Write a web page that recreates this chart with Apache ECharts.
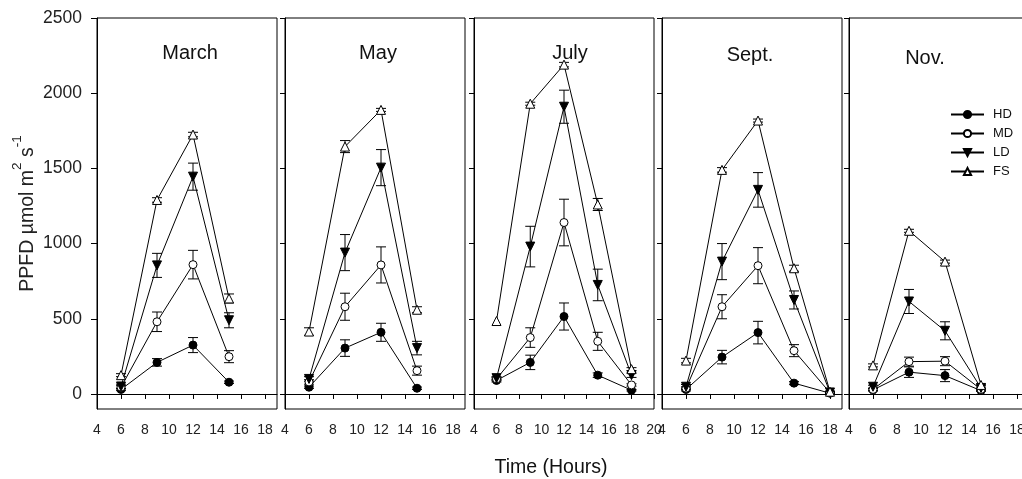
<!DOCTYPE html>
<html>
<head>
<meta charset="utf-8">
<script src="https://cdn.jsdelivr.net/npm/echarts@6/dist/echarts.min.js"></script>
<style>
html,body{margin:0;padding:0;background:#fff;overflow:hidden;}
#chart{width:1040px;height:479px;}
</style>
</head>
<body>
<div id="chart"></div>
<script>
// ---- data ----
const months = ['March', 'May', 'July', 'Sept.', 'Nov.'];
const hoursShort = [6, 9, 12, 15];
const hoursLong = [6, 9, 12, 15, 18];
const monthHours = [hoursShort, hoursShort, hoursLong, hoursLong, hoursShort];
const xMaxes = [19, 19, 20, 19, 19];
const xTicks = [[4,6,8,10,12,14,16,18],[4,6,8,10,12,14,16,18],[4,6,8,10,12,14,16,18,20],[4,6,8,10,12,14,16,18],[4,6,8,10,12,14,16,18]];
const yTicks = [0, 500, 1000, 1500, 2000, 2500];
const seriesNames = ['HD', 'MD', 'LD', 'FS'];

const HD = [[30,210,325,78],[45,305,410,38],[90,210,515,125,25],[30,245,408,72,5],[27,145,122,22]];
const HD_err = [[8,25,50,8],[8,55,60,8],[10,48,90,15,5],[10,45,75,10,5],[8,35,40,5]];
const MD = [[45,480,860,248],[80,580,858,155],[100,375,1140,350,60],[38,580,853,288,8],[30,215,218,30]];
const MD_err = [[10,65,95,40],[15,90,120,30],[10,65,155,60,8],[10,80,120,40,5],[8,30,30,5]];
const LD = [[50,855,1445,490],[100,940,1505,305],[105,980,1910,725,125],[48,880,1357,625,10],[48,615,420,40]];
const LD_err = [[15,80,90,50],[15,120,120,45],[10,135,110,105,15],[15,120,115,60,5],[10,80,60,5]];
const FS = [[125,1290,1725,635],[415,1645,1889,560],[485,1930,2190,1260,165],[222,1490,1818,836,15],[190,1085,880,60]];
const FS_err = [[10,15,15,30],[25,40,10,20],[0,10,15,40,10],[15,15,10,20,5],[10,10,10,5]];

// ---- styling ----
const FONT = 'Liberation Sans, Arial, sans-serif';
const means = [HD, MD, LD, FS];
const errs = [HD_err, MD_err, LD_err, FS_err];
const symbols = [
  {symbol: 'circle', size: 8, rotate: 0, fill: '#000'},
  {symbol: 'circle', size: 8, rotate: 0, fill: '#fff'},
  {symbol: 'triangle', size: 9, rotate: 180, fill: '#000'},
  {symbol: 'triangle', size: 9, rotate: 0, fill: '#fff'}
];
const gridLefts = [97, 285, 474, 662, 849];
const titlePos = [[190, 53], [378, 53], [570, 53], [750, 55], [925, 58]];

function renderErr(params, api) {
  const x = api.value(0), y = api.value(1), e = api.value(2);
  if (!e) return null;
  const top = api.coord([x, y + e]);
  const bot = api.coord([x, y - e]);
  const hw = 5;
  const st = {stroke: '#000', lineWidth: 1};
  return {
    type: 'group',
    children: [
      {type: 'line', shape: {x1: top[0], y1: top[1], x2: bot[0], y2: bot[1]}, style: st},
      {type: 'line', shape: {x1: top[0] - hw, y1: top[1], x2: top[0] + hw, y2: top[1]}, style: st},
      {type: 'line', shape: {x1: bot[0] - hw, y1: bot[1], x2: bot[0] + hw, y2: bot[1]}, style: st}
    ]
  };
}

const grids = [], xAxes = [], yAxes = [], series = [], graphics = [];
months.forEach((m, gi) => {
  grids.push({left: gridLefts[gi], top: 18, width: 180, height: 391, show: true,
    borderColor: '#000', borderWidth: 1, backgroundColor: 'transparent'});
  xAxes.push({
    type: 'value', gridIndex: gi, min: 4, max: xMaxes[gi],
    axisLine: {show: true, lineStyle: {color: '#000', width: 1}},
    axisTick: {show: true, length: 5, inside: false, customValues: xTicks[gi], lineStyle: {color: '#000'}},
    axisLabel: {show: true, customValues: xTicks[gi], margin: 14, color: '#222', fontSize: 14, fontFamily: FONT},
    splitLine: {show: false}
  });
  const ya = {
    type: 'value', gridIndex: gi, min: -100, max: 2500,
    axisLine: {show: true, lineStyle: {color: '#000', width: 1}},
    axisTick: {show: true, length: gi === 0 ? 6 : 5, inside: false, customValues: yTicks, lineStyle: {color: '#000'}},
    axisLabel: {show: gi === 0, customValues: yTicks, margin: 15, color: '#222', fontSize: 17.5, fontFamily: FONT,
      formatter: v => String(v)},
    splitLine: {show: false}
  };
  if (gi === 0) {
    ya.name = '{a|PPFD µmol m}{s|2}{a| s}{s|-1}';
    ya.nameLocation = 'middle';
    ya.nameGap = 59;
    ya.nameRotate = 90;
    ya.nameTextStyle = {
      fontFamily: FONT, color: '#222',
      rich: {
        a: {fontSize: 19.5, fontFamily: FONT, color: '#222', lineHeight: 28, verticalAlign: 'bottom'},
        s: {fontSize: 13.5, fontFamily: FONT, color: '#222', lineHeight: 12, verticalAlign: 'top'}
      }
    };
  }
  yAxes.push(ya);

  const hours = monthHours[gi];
  seriesNames.forEach((sn, si) => {
    const errData = hours.map((h, k) => [h, means[si][gi][k], errs[si][gi][k]]);
    series.push({
      type: 'custom', name: sn + ' error', xAxisIndex: gi, yAxisIndex: gi,
      renderItem: renderErr, data: errData, z: 1, silent: true,
      encode: {x: 0, y: 1}
    });
  });
  seriesNames.forEach((sn, si) => {
    const s = symbols[si];
    series.push({
      type: 'line', name: sn, xAxisIndex: gi, yAxisIndex: gi,
      data: hours.map((h, k) => [h, means[si][gi][k]]),
      symbol: s.symbol, symbolSize: s.size, symbolRotate: s.rotate, showAllSymbol: true,
      lineStyle: {color: '#000', width: 1},
      itemStyle: {color: s.fill, borderColor: '#000', borderWidth: 1},
      emphasis: {disabled: true},
      z: 2 + si
    });
  });

  graphics.push({
    type: 'text', x: titlePos[gi][0], y: titlePos[gi][1],
    style: {text: m, fontSize: 20, fontFamily: FONT, fill: '#111', textAlign: 'center', textVerticalAlign: 'middle'}
  });
});

graphics.push({
  type: 'text', x: 551, y: 468,
  style: {text: 'Time (Hours)', fontSize: 19.5, fontFamily: FONT, fill: '#111', textAlign: 'center', textVerticalAlign: 'middle'}
});

const chart = echarts.init(document.getElementById('chart'), null, {renderer: 'canvas'});
chart.setOption({
  animation: false,
  backgroundColor: '#fff',
  grid: grids,
  xAxis: xAxes,
  yAxis: yAxes,
  series: series,
  graphic: graphics,
  legend: {
    data: seriesNames,
    orient: 'vertical',
    left: 945, top: 103,
    itemWidth: 33, itemHeight: 9, itemGap: 6,
    selectedMode: false,
    textStyle: {fontSize: 13, fontFamily: FONT, color: '#111', lineHeight: 13, padding: [0, 0, 0, 4]}
  }
});
</script>
</body>
</html>
